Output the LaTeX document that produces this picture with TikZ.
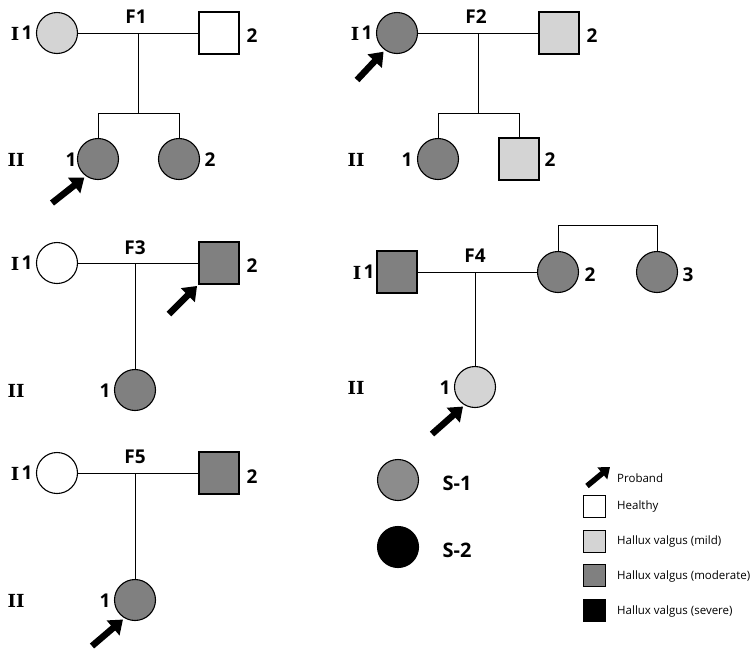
\documentclass[tikz,border=0pt]{standalone}
\usepackage{fontspec}
\setmainfont{Open Sans}
\newfontfamily\rom{DejaVu Serif}
\usetikzlibrary{arrows.meta}
\definecolor{mild}{HTML}{D4D4D4}
\definecolor{moder}{HTML}{808080}
\definecolor{sone}{HTML}{8C8C8C}
\tikzset{
  fem/.style={circle,draw=black,line width=1.1pt,minimum size=41pt,inner sep=0pt},
  mal/.style={rectangle,draw=black,line width=1.1pt,minimum width=40pt,minimum height=42pt,inner sep=0pt},
  healthy/.style={fill=white},
  mildc/.style={fill=mild},
  modc/.style={fill=moder},
  lbl/.style={font=\fontsize{19}{19}\selectfont\bfseries,inner sep=0pt},
  gen/.style={font=\fontsize{18}{18}\selectfont\rom\bfseries,inner sep=0pt},
  conn/.style={line width=0.9pt},
  prob/.style={line width=6.5pt,shorten >=2pt,-{Triangle[length=13pt,width=19pt]}},
  legbox/.style={rectangle,draw=black,line width=1pt,minimum width=22pt,minimum height=22pt,inner sep=0pt},
  legtxt/.style={font=\fontsize{11.5}{11.5}\selectfont,anchor=west,inner sep=0pt},
}
\begin{document}
\begin{tikzpicture}[x=1pt,y=-1pt]
\useasboundingbox (0,0) rectangle (754,654);
% ---------- F1 ----------
\node[fem,mildc] (f1a) at (57,33) {};
\node[mal,healthy] (f1b) at (219,33) {};
\node[fem,modc] (f1c) at (98,159) {};
\node[fem,modc] (f1d) at (179,159) {};
\coordinate (f1m) at (138,33);
\coordinate (f1s) at (138,113);
\draw[conn] (f1a) -- (f1b);
\draw[conn] (f1m) -- (f1s);
\draw[conn] (f1c.north) |- (f1s);
\draw[conn] (f1d.north) |- (f1s);
\node[lbl] (f1t) at (136,17) {F1};
\node[gen] (f1g1) at (15,34) {I};
\node[lbl] (f1n1) at (27,33) {1};
\node[lbl] (f1n2) at (252,36) {2};
\node[gen] (f1g2) at (16,160) {II};
\node[lbl] (f1n3) at (71,160) {1};
\node[lbl] (f1n4) at (210,160) {2};
\coordinate (f1p) at (52,203);
\draw[prob] (f1p) -- (f1c.235);
% ---------- F2 ----------
\node[fem,modc] (f2a) at (397,33) {};
\node[mal,mildc] (f2b) at (559,33) {};
\node[fem,modc] (f2c) at (438,159) {};
\node[mal,mildc] (f2d) at (519,159) {};
\coordinate (f2m) at (478,33);
\coordinate (f2s) at (478,113);
\draw[conn] (f2a) -- (f2b);
\draw[conn] (f2m) -- (f2s);
\draw[conn] (f2c.north) |- (f2s);
\draw[conn] (f2d.north) |- (f2s);
\node[lbl] (f2t) at (476,17) {F2};
\node[gen] (f2g1) at (355,34) {I};
\node[lbl] (f2n1) at (367,33) {1};
\node[lbl] (f2n2) at (592,36) {2};
\node[gen] (f2g2) at (356,160) {II};
\node[lbl] (f2n3) at (407,160) {1};
\node[lbl] (f2n4) at (550,160) {2};
\coordinate (f2p) at (357,80);
\draw[prob] (f2p) -- (f2a.235);
% ---------- F3 ----------
\node[fem,healthy] (f3a) at (57,263) {};
\node[mal,modc] (f3b) at (219,263) {};
\node[fem,modc] (f3c) at (135,390) {};
\coordinate (f3m) at (135,263);
\draw[conn] (f3a) -- (f3b);
\draw[conn] (f3m) -- (f3c);
\node[lbl] (f3t) at (135,248) {F3};
\node[gen] (f3g1) at (15,264) {I};
\node[lbl] (f3n1) at (27,263) {1};
\node[lbl] (f3n2) at (252,266) {2};
\node[gen] (f3g2) at (16,391) {II};
\node[lbl] (f3n3) at (105,391) {1};
\coordinate (f3p) at (169,314);
\draw[prob] (f3p) -- (f3b.south west);
% ---------- F4 ----------
\node[mal,modc] (f4a) at (397,272) {};
\node[fem,modc] (f4b) at (558,272) {};
\node[fem,modc] (f4e) at (657,272) {};
\node[fem,mildc] (f4c) at (475,387) {};
\coordinate (f4m) at (475,272);
\coordinate (f4s) at (600,225);
\draw[conn] (f4a) -- (f4b);
\draw[conn] (f4m) -- (f4c);
\draw[conn] (f4b.north) |- (f4s);
\draw[conn] (f4e.north) |- (f4s);
\node[lbl] (f4t) at (475,256) {F4};
\node[gen] (f4g1) at (357,273) {I};
\node[lbl] (f4n1) at (369,272) {1};
\node[lbl] (f4n2) at (590,275) {2};
\node[lbl] (f4n3) at (688,275) {3};
\node[gen] (f4g2) at (356,388) {II};
\node[lbl] (f4n4) at (445,388) {1};
\coordinate (f4p) at (432,434);
\draw[prob] (f4p) -- (f4c.240);
% ---------- F5 ----------
\node[fem,healthy] (f5a) at (57,473) {};
\node[mal,modc] (f5b) at (219,473) {};
\node[fem,modc] (f5c) at (135,600) {};
\coordinate (f5m) at (135,473);
\draw[conn] (f5a) -- (f5b);
\draw[conn] (f5m) -- (f5c);
\node[lbl] (f5t) at (135,457) {F5};
\node[gen] (f5g1) at (15,474) {I};
\node[lbl] (f5n1) at (27,473) {1};
\node[lbl] (f5n2) at (252,477) {2};
\node[gen] (f5g2) at (16,601) {II};
\node[lbl] (f5n3) at (105,601) {1};
\coordinate (f5p) at (92,646);
\draw[prob] (f5p) -- (f5c.240);
% ---------- S legend ----------
\node[fem,fill=sone] (s1) at (398,480) {};
\node[fem,fill=black] (s2) at (398,547) {};
\node[lbl,font=\fontsize{20}{20}\selectfont\bfseries] (s1t) at (457,483) {S-1};
\node[lbl,font=\fontsize{20}{20}\selectfont\bfseries] (s2t) at (457,550) {S-2};
% ---------- legend ----------
\coordinate (lpa) at (587,486);
\coordinate (lpb) at (610,467);
\draw[line width=5.5pt,-{Triangle[length=10pt,width=15pt]}] (lpa) -- (lpb);
\node[legtxt] (lt0) at (617,478) {Proband};
\node[legbox,fill=white] (lb1) at (594,506) {};
\node[legbox,fill=mild] (lb2) at (594,541) {};
\node[legbox,fill=moder] (lb3) at (594,575) {};
\node[legbox,fill=black] (lb4) at (594,610) {};
\node[legtxt] (lt1) at (617,507) {Healthy};
\node[legtxt] (lt2) at (617,542) {Hallux valgus (mild)};
\node[legtxt] (lt3) at (617,576) {Hallux valgus (moderate)};
\node[legtxt] (lt4) at (617,611) {Hallux valgus (severe)};
\end{tikzpicture}
\end{document}
